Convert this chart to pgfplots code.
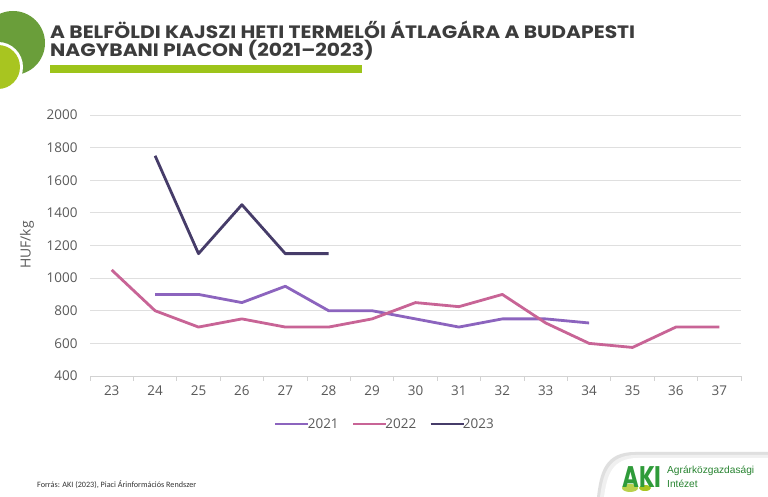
\documentclass[border=0pt]{standalone}
\usepackage{pgfplots}
\pgfplotsset{compat=1.18}
\usepackage{fontspec}
\setmainfont{Open Sans}
\newfontfamily\titlefont{Poppins Bold}
\newfontfamily\srcfont{Carlito}
\newfontfamily\logofont{Liberation Sans}
\definecolor{c2021}{HTML}{8C64BE}
\definecolor{c2022}{HTML}{C86496}
\definecolor{c2023}{HTML}{463C69}
\definecolor{darkgreen}{HTML}{6A9E3A}
\definecolor{lightgreen}{HTML}{A8C520}
\definecolor{barGreen}{HTML}{9DC41A}
\definecolor{titlegray}{HTML}{3C3C3C}
\definecolor{labelgray}{HTML}{595959}
\definecolor{akigreen}{HTML}{2F9B3A}
\begin{document}
\begin{tikzpicture}[x=1bp,y=1bp]
\useasboundingbox (0,0) rectangle (768,497);
\fill[white] (0,0) rectangle (768,497);
\begin{scope}
\clip (0,0) rectangle (768,497);
\fill[darkgreen] (13,454) circle (32);
\fill[white] (-2,430) circle (25);
\fill[lightgreen] (-2,430) circle (22);
% logo backdrop
\fill[gray!25] (597,0) .. controls (600,25) and (605,45) .. (635,45) -- (768,45) -- (768,0) -- cycle;
\fill[gray!12] (600,0) .. controls (603,23) and (608,42) .. (636,42) -- (768,42) -- (768,0) -- cycle;
\fill[white] (604,0) .. controls (607,22) and (612,39) .. (638,39) -- (768,39) -- (768,0) -- cycle;
\end{scope}
\node[anchor=base west, inner sep=0, text=titlegray] at (50,458) {\scalebox{1.13}[1]{\titlefont\fontsize{18}{20}\selectfont A BELFÖLDI KAJSZI HETI TERMELŐI ÁTLAGÁRA A BUDAPESTI}};
\node[anchor=base west, inner sep=0, text=titlegray] at (50,440) {\scalebox{1.13}[1]{\titlefont\fontsize{18}{20}\selectfont NAGYBANI PIACON (2021–2023)}};
\fill[barGreen] (50,424) rectangle (362,432);
\node[anchor=base west, inner sep=0, text=black!80, font=\srcfont\fontsize{8.2}{9}\selectfont] at (37,9) {Forrás: AKI (2023), Piaci Árinformációs Rendszer};
\fill[lightgreen!80] (630,9) ellipse (8 and 4);
\fill[lightgreen] (645,9) ellipse (6 and 3);
\node[anchor=base west, inner sep=0, text=akigreen] at (622,9) {\scalebox{0.88}[1.15]{\titlefont\fontsize{26}{28}\selectfont AKI}};
\node[anchor=north west, inner sep=0, align=left, text=akigreen!85!black, font=\logofont\fontsize{10.2}{13.5}\selectfont] at (667,31) {Agrárközgazdasági\\Intézet};
\node[rotate=90, text=labelgray, font=\fontsize{14}{16}\selectfont] at (27,252) {HUF/kg};
\begin{axis}[
  at={(90bp,121bp)}, anchor=south west,
  scale only axis, width=651bp, height=261bp,
  xmin=22.5, xmax=37.5, ymin=400, ymax=2000,
  xtick={23,...,37}, minor xtick={22.5,23.5,...,37.5},
  ytick={400,600,...,2000},
  separate axis lines,
  axis x line*=bottom, axis y line*=left,
  x axis line style={draw=gray!35, line width=0.8pt, -},
  y axis line style={draw=none},
  ymajorgrids, grid style={draw=gray!25, line width=0.8pt},
  major tick length=0pt, minor tick length=5bp,
  xtick align=outside,
  minor x tick style={draw=gray!35, line width=0.8pt},
  ytick style={draw=none},
  tick label style={text=labelgray, font=\fontsize{13.5}{15}\selectfont},
  /pgf/number format/assume math mode=true,
  /pgf/number format/set thousands separator={},
  xticklabel style={yshift=-6bp},
  yticklabel style={xshift=-9bp},
  legend columns=3,
  legend style={at={(0.453,-0.184)}, anchor=center, draw=none, fill=none,
    font=\fontsize{13.5}{15}\selectfont, text=labelgray,
    /tikz/every even column/.append style={column sep=11bp},
    /tikz/every odd column/.append style={column sep=-4bp}},
  legend image code/.code={\draw[#1] (0bp,0bp) -- (33bp,0bp);},
  every axis plot/.append style={line width=2.8bp, line join=round},
]
\addplot[c2021] coordinates {(24,900)(25,900)(26,850)(27,950)(28,800)(29,800)(30,750)(31,700)(32,750)(33,750)(34,725)};
\addlegendentry{2021}
\addplot[c2022] coordinates {(23,1050)(24,800)(25,700)(26,750)(27,700)(28,700)(29,750)(30,850)(31,825)(32,900)(33,725)(34,600)(35,575)(36,700)(37,700)};
\addlegendentry{2022}
\addplot[c2023] coordinates {(24,1750)(25,1150)(26,1450)(27,1150)(28,1150)};
\addlegendentry{2023}
\end{axis}
\end{tikzpicture}
\end{document}
